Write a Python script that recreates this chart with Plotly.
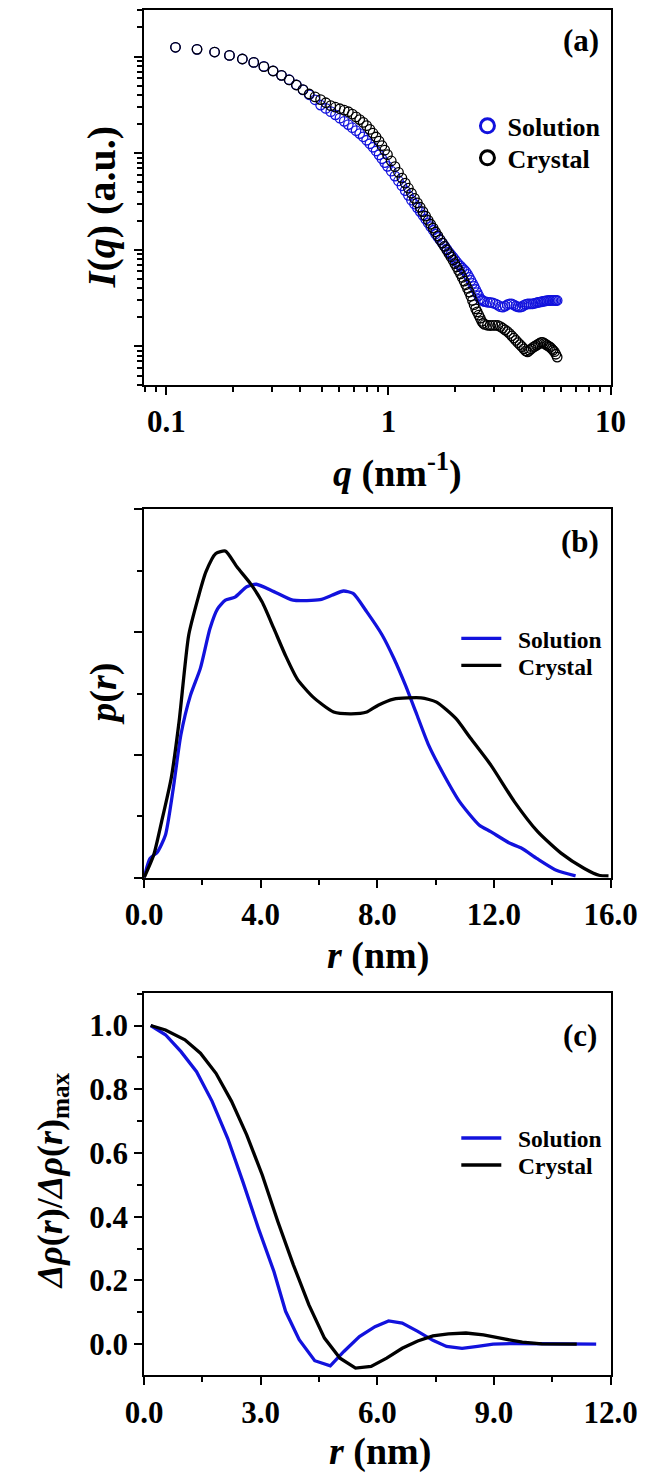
import plotly.graph_objects as go

# ---------------- Panel (a): SAXS intensity ----------------
q_nm = [0.110, 0.1375, 0.165, 0.1925, 0.220, 0.2475, 0.275, 0.3025, 0.330, 0.3575,
        0.385, 0.4125, 0.440, 0.4675, 0.495, 0.5225, 0.550, 0.5775, 0.605, 0.6325,
        0.660, 0.6875, 0.715, 0.7425, 0.770, 0.7975, 0.825, 0.8525, 0.880, 0.9075,
        0.935, 0.9625, 0.990,
        1.03, 1.07, 1.11, 1.15, 1.19, 1.23, 1.27, 1.31, 1.35, 1.39, 1.43, 1.47, 1.51,
        1.55, 1.59, 1.63, 1.67, 1.71, 1.75, 1.79, 1.83, 1.87, 1.91, 1.95, 1.99, 2.03,
        2.07, 2.11, 2.15, 2.19, 2.23, 2.27, 2.31, 2.35, 2.39, 2.43, 2.47, 2.51, 2.55,
        2.59, 2.63, 2.67, 2.71,
        2.79, 2.87, 2.95, 3.03, 3.11, 3.19, 3.27, 3.35, 3.43, 3.51, 3.59, 3.67, 3.75,
        3.83, 3.91, 3.99, 4.07, 4.15, 4.23, 4.31, 4.39, 4.47, 4.55, 4.63, 4.71, 4.79,
        4.87, 4.95, 5.03, 5.11, 5.19, 5.27, 5.35, 5.43, 5.51, 5.59, 5.67, 5.75]

log10_I_solution = [3.096, 3.075, 3.047, 3.012, 2.975, 2.940, 2.898, 2.852, 2.806, 2.760,
                    2.708, 2.656, 2.605, 2.553, 2.498, 2.464, 2.430, 2.397, 2.363, 2.330,
                    2.296, 2.264, 2.233, 2.203, 2.170, 2.134, 2.098, 2.062, 2.023, 1.983,
                    1.943, 1.903, 1.864,
                    1.814, 1.763, 1.713, 1.663, 1.613, 1.564, 1.514, 1.474, 1.435, 1.396,
                    1.357, 1.318, 1.279, 1.241, 1.203, 1.164, 1.130, 1.100, 1.070, 1.039,
                    1.009, 0.978, 0.952, 0.926, 0.900, 0.874, 0.850, 0.831, 0.812, 0.793,
                    0.774, 0.746, 0.715, 0.684, 0.653, 0.622, 0.590, 0.558, 0.525, 0.493,
                    0.482, 0.472, 0.465,
                    0.458, 0.455, 0.450, 0.442, 0.428, 0.412, 0.408, 0.418, 0.432, 0.440,
                    0.440, 0.430, 0.418, 0.410, 0.407, 0.412, 0.425, 0.435, 0.440, 0.441,
                    0.440, 0.442, 0.447, 0.452, 0.457, 0.460, 0.462, 0.466, 0.470, 0.472,
                    0.474, 0.476, 0.476, 0.477, 0.477, 0.477, 0.476, 0.476]

log10_I_crystal = [3.096, 3.075, 3.047, 3.012, 2.975, 2.940, 2.896, 2.851, 2.806, 2.758,
                   2.706, 2.658, 2.613, 2.583, 2.555, 2.522, 2.492, 2.476, 2.460, 2.445,
                   2.429, 2.405, 2.376, 2.348, 2.319, 2.285, 2.246, 2.207, 2.168, 2.125,
                   2.078, 2.032, 1.985,
                   1.920, 1.861, 1.802, 1.743, 1.690, 1.638, 1.586, 1.533, 1.487, 1.441,
                   1.396, 1.350, 1.306, 1.265, 1.225, 1.185, 1.144, 1.105, 1.070, 1.035,
                   0.999, 0.964, 0.929, 0.894, 0.858, 0.823, 0.787, 0.752, 0.715, 0.677,
                   0.639, 0.601, 0.563, 0.520, 0.476, 0.433, 0.390, 0.358, 0.325, 0.293,
                   0.260, 0.240, 0.228,
                   0.220, 0.217, 0.218, 0.219, 0.217, 0.206, 0.189, 0.172, 0.155, 0.134,
                   0.110, 0.087, 0.063, 0.040, 0.019, -0.002, -0.024, -0.045, -0.055, -0.040,
                   -0.025, -0.010, 0.000, 0.012, 0.022, 0.032, 0.042, 0.042, 0.032, 0.022,
                   0.012, 0.002, -0.008, -0.023, -0.039, -0.054, -0.080, -0.110]

I_solution = [10 ** v for v in log10_I_solution]
I_crystal = [10 ** v for v in log10_I_crystal]

# ---------------- Panel (b): pair distance distribution ----------------
r_pr_solution = [0, 0.2, 0.46, 0.73, 1.0, 1.26, 1.59, 1.93, 2.26, 2.52, 2.79, 3.12, 3.52, 3.85,
                 4.45, 5.11, 6.04, 6.44, 6.84, 7.17, 7.64, 8.17, 8.57, 8.96, 9.36, 9.76,
                 10.29, 10.82, 11.49, 11.89, 12.55, 12.95, 13.48, 14.14, 14.8]
p_solution = [0, 0.31, 0.42, 0.69, 1.45, 2.32, 2.97, 3.41, 4.06, 4.38, 4.52, 4.57, 4.74, 4.78,
              4.66, 4.52, 4.53, 4.60, 4.67, 4.63, 4.33, 3.95, 3.57, 3.14, 2.65, 2.16,
              1.67, 1.24, 0.86, 0.75, 0.56, 0.48, 0.31, 0.12, 0.03]

r_pr_crystal = [0, 0.33, 0.6, 0.93, 1.2, 1.53, 1.86, 2.12, 2.46, 2.79, 3.19, 3.65, 4.05, 4.45,
                4.85, 5.25, 5.78, 6.5, 7.1, 7.64, 8.03, 8.56, 9.5, 10.03, 10.7, 11.2, 11.9,
                12.7, 13.5, 14.3, 15.1, 15.6, 15.93]
p_crystal = [0, 0.37, 0.91, 1.62, 2.54, 3.95, 4.57, 4.98, 5.28, 5.32, 5.06, 4.79, 4.49, 4.06,
             3.62, 3.24, 2.95, 2.70, 2.67, 2.70, 2.81, 2.91, 2.93, 2.86, 2.59, 2.27, 1.83,
             1.24, 0.75, 0.40, 0.15, 0.04, 0.03]

# ---------------- Panel (c): normalised electron density contrast ----------------
r_rho_solution = [0.17, 0.55, 0.95, 1.35, 1.75, 2.15, 2.54, 2.94, 3.34, 3.64, 3.99, 4.39, 4.79,
                  5.14, 5.54, 5.94, 6.29, 6.64, 7.04, 7.43, 7.78, 8.18, 8.58, 8.98, 9.43,
                  9.93, 10.93, 11.63]
rho_solution = [1.0, 0.971, 0.918, 0.855, 0.762, 0.646, 0.51, 0.364, 0.228, 0.103, 0.014,
                -0.052, -0.068, -0.023, 0.024, 0.055, 0.073, 0.066, 0.040, 0.012, -0.007,
                -0.013, -0.007, 0.0, 0.002, 0.001, 0.0, 0.0]

r_rho_crystal = [0.17, 0.55, 1.05, 1.45, 1.85, 2.25, 2.64, 3.04, 3.44, 3.84, 4.24, 4.64, 5.04,
                 5.44, 5.84, 6.24, 6.64, 7.04, 7.43, 7.83, 8.28, 8.73, 9.23, 9.73, 10.23,
                 11.13]
rho_crystal = [1.0, 0.986, 0.955, 0.913, 0.85, 0.762, 0.657, 0.531, 0.385, 0.249, 0.123,
               0.019, -0.044, -0.075, -0.070, -0.044, -0.013, 0.010, 0.026, 0.032, 0.035,
               0.029, 0.017, 0.006, 0.001, 0.0]

series_names = ["Solution", "Crystal"]
BLUE = "#1212dd"
BLACK = "#000000"
FONT = "Liberation Serif"
PAD = "\u00a0\u00a0"  # small gap between legend line and its label

W, H = 650, 1478


def px_x(v):
    return v / W


def px_y(v):
    return 1 - v / H


fig = go.Figure()

# (a) scatter circles
fig.add_trace(go.Scatter(x=q_nm, y=I_solution, mode="markers", name=series_names[0],
                         showlegend=False, xaxis="x", yaxis="y",
                         marker=dict(symbol="circle-open", size=9.5, color=BLUE,
                                     line=dict(width=1.3, color=BLUE))))
fig.add_trace(go.Scatter(x=q_nm, y=I_crystal, mode="markers", name=series_names[1],
                         showlegend=False, xaxis="x", yaxis="y",
                         marker=dict(symbol="circle-open", size=9.5, color=BLACK,
                                     line=dict(width=1.3, color=BLACK))))
# legend entries for (a)
for nm, col, lg in zip(series_names, [BLUE, BLACK], ["legend", "legend2"]):
    fig.add_trace(go.Scatter(x=[None], y=[None], mode="markers", name=nm, legend=lg,
                             xaxis="x", yaxis="y",
                             marker=dict(symbol="circle-open", size=14, color=col,
                                         line=dict(width=3, color=col))))

# (b) lines
fig.add_trace(go.Scatter(x=r_pr_solution, y=p_solution, mode="lines",
                         name=PAD + series_names[0],
                         legend="legend3", xaxis="x2", yaxis="y2",
                         line=dict(color=BLUE, width=3.3, shape="spline", smoothing=0.6)))
fig.add_trace(go.Scatter(x=r_pr_crystal, y=p_crystal, mode="lines",
                         name=PAD + series_names[1],
                         legend="legend4", xaxis="x2", yaxis="y2",
                         line=dict(color=BLACK, width=3.3, shape="spline", smoothing=0.6)))

# (c) lines
fig.add_trace(go.Scatter(x=r_rho_solution, y=rho_solution, mode="lines",
                         name=PAD + series_names[0],
                         legend="legend5", xaxis="x3", yaxis="y3",
                         line=dict(color=BLUE, width=3.3)))
fig.add_trace(go.Scatter(x=r_rho_crystal, y=rho_crystal, mode="lines",
                         name=PAD + series_names[1],
                         legend="legend6", xaxis="x3", yaxis="y3",
                         line=dict(color=BLACK, width=3.3)))

xdom = [px_x(126), px_x(628)]
tickfont = dict(family=FONT, size=31, color="black", weight="bold")
common = dict(showline=True, linecolor="black", linewidth=2, mirror=True,
              ticks="outside", tickcolor="black", tickwidth=1.5, ticklen=8,
              showgrid=False, zeroline=False, tickfont=tickfont)


def minor(dt):
    return dict(ticks="outside", ticklen=5, tickwidth=1.5, tickcolor="black",
                dtick=dt, showgrid=False)


fig.update_layout(
    width=W, height=H,
    margin=dict(l=0, r=0, t=0, b=0),
    paper_bgcolor="white", plot_bgcolor="white",
    font=dict(family=FONT, color="black"),
    xaxis=dict(domain=xdom, anchor="y", type="log", range=[-1.10, 1.0],
               tickmode="array", tickvals=[0.1, 1, 10], ticktext=["0.1", "1", "10"],
               minor=minor("D1"), **common),
    yaxis=dict(domain=[px_y(376.5), px_y(1)], anchor="x", type="log", range=[-0.401, 3.482],
               dtick=1, showticklabels=False, minor=minor("D1"), **common),
    xaxis2=dict(domain=xdom, anchor="y2", range=[0, 16], dtick=4, tick0=0, tickformat=".1f",
                minor=minor(2), **common),
    yaxis2=dict(domain=[px_y(869.3), px_y(500.7)], anchor="x2", range=[0, 6], dtick=2,
                showticklabels=False, minor=minor(1), **common),
    xaxis3=dict(domain=xdom, anchor="y3", range=[0, 12], dtick=3, tick0=0, tickformat=".1f",
                minor=minor(1.5), **common),
    yaxis3=dict(domain=[px_y(1367.3), px_y(985)], anchor="x3", range=[-0.098, 1.101],
                dtick=0.2, tick0=0, tickformat=".1f", minor=minor(0.1), **common),
)


def leg(xl, yc, size, iw=30):
    return dict(x=px_x(xl), y=px_y(yc), xanchor="left", yanchor="middle",
                font=dict(family=FONT, size=size, color="black", weight="bold"),
                bgcolor="rgba(0,0,0,0)", borderwidth=0, itemwidth=iw)


fig.update_layout(
    legend=leg(474, 117, 26),
    legend2=leg(474, 149, 26),
    legend3=leg(462, 630, 23.5, 40),
    legend4=leg(462, 657, 23.5, 40),
    legend5=leg(462, 1130, 23.5, 40),
    legend6=leg(462, 1157, 23.5, 40),
)


def ann(text, xc, yc, size, angle=0):
    fig.add_annotation(text=text, x=px_x(xc), y=px_y(yc), xref="paper", yref="paper",
                       xanchor="center", yanchor="middle", showarrow=False, textangle=angle,
                       font=dict(family=FONT, size=size, color="black"))


# panel labels
ann("<b>(a)</b>", 596, 32, 31)
ann("<b>(b)</b>", 595, 533, 31)
ann("<b>(c)</b>", 595, 1027, 31)
# axis titles
ann("<b><i>q</i> (nm<sup>-1</sup>)</b>", 399, 462, 38)
ann("<b><i>I</i>(<i>q</i>) (a.u.)</b>", 81, 198, 40, -90)
ann("<b><i>r</i> (nm)</b>", 378, 947, 38)
ann("<b><i>p</i>(<i>r</i>)</b>", 82, 685, 38, -90)
ann("<b><i>r</i> (nm)</b>", 380, 1443, 38)
ann("<b><i>Δρ</i>(<i>r</i>)/<i>Δρ</i>(<i>r</i>)<sub>max</sub></b>", 27, 1173, 36, -90)

fig.write_html("out.html")
